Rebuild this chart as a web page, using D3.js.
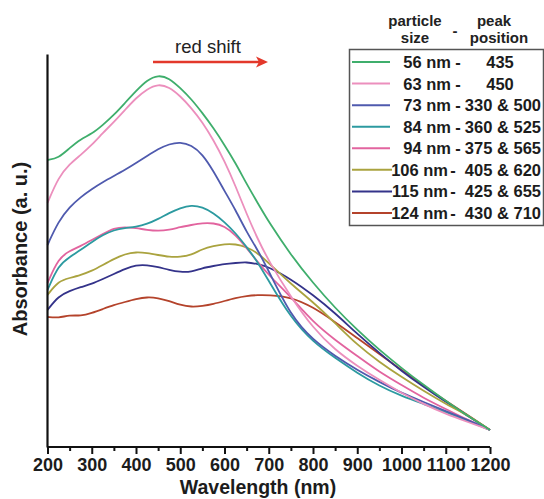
<!DOCTYPE html>
<html>
<head>
<meta charset="utf-8">
<script src="https://cdn.jsdelivr.net/npm/d3@7"></script>
<style>
  html, body { margin: 0; padding: 0; background: #ffffff; }
  svg { display: block; }
  text { font-family: "Liberation Sans", Arial, Helvetica, sans-serif; }
</style>
</head>
<body>
<svg id="chart" width="544" height="499"></svg>
<script>
// ---- data (absorbance in arbitrary units) ----
const wavelengths = [200,225,250,275,300,325,350,375,400,425,450,475,500,525,550,575,600,625,650,675,700,750,800,850,900,950,1000,1050,1100,1150,1200];

const abs56  = [2.87,2.89,2.99,3.08,3.13,3.22,3.32,3.44,3.56,3.67,3.72,3.69,3.59,3.48,3.34,3.19,3.02,2.84,2.63,2.44,2.25,1.92,1.64,1.39,1.17,0.97,0.79,0.62,0.46,0.31,0.17];
const abs63  = [2.44,2.70,2.83,2.92,3.02,3.14,3.25,3.37,3.49,3.58,3.63,3.60,3.51,3.39,3.25,3.07,2.86,2.61,2.33,2.08,1.86,1.50,1.19,0.97,0.81,0.67,0.54,0.43,0.33,0.25,0.17];
const abs73  = [2.02,2.26,2.40,2.50,2.58,2.65,2.71,2.77,2.84,2.91,2.98,3.03,3.05,3.02,2.93,2.76,2.56,2.37,2.15,1.97,1.76,1.31,1.07,0.91,0.77,0.65,0.54,0.45,0.36,0.27,0.17];
const abs84  = [1.57,1.82,1.90,1.97,2.05,2.12,2.17,2.19,2.20,2.23,2.28,2.34,2.39,2.42,2.40,2.34,2.25,2.14,2.00,1.85,1.66,1.29,1.05,0.89,0.74,0.61,0.51,0.43,0.35,0.26,0.17];
const abs94  = [1.64,1.89,1.96,2.01,2.07,2.13,2.19,2.20,2.19,2.17,2.16,2.17,2.20,2.22,2.24,2.24,2.21,2.12,1.99,1.85,1.72,1.50,1.25,1.07,0.91,0.75,0.62,0.49,0.38,0.27,0.17];
const abs106 = [1.52,1.66,1.69,1.72,1.76,1.82,1.88,1.93,1.95,1.94,1.92,1.90,1.90,1.92,1.98,2.01,2.03,2.03,2.00,1.94,1.84,1.63,1.45,1.24,1.02,0.85,0.70,0.56,0.43,0.32,0.17];
const abs115 = [1.37,1.51,1.56,1.60,1.63,1.68,1.73,1.78,1.82,1.82,1.80,1.77,1.75,1.75,1.79,1.81,1.83,1.84,1.85,1.83,1.80,1.68,1.52,1.34,1.13,0.94,0.76,0.60,0.45,0.31,0.17];
const abs124 = [1.30,1.29,1.32,1.31,1.34,1.38,1.42,1.45,1.48,1.50,1.49,1.46,1.42,1.40,1.41,1.43,1.46,1.49,1.51,1.52,1.52,1.50,1.40,1.25,1.09,0.93,0.77,0.61,0.46,0.32,0.17];

const sizeLabels = ["56 nm","63 nm","73 nm","84 nm","94 nm","106 nm","115 nm","124 nm"];
const peakLabels = ["435","450","330 & 500","360 & 525","375 & 565","405 & 620","425 & 655","430 & 710"];
const colors = ["#3fae6c","#ec8fbd","#4f5aae","#2c9aa0","#e2649f","#aaa33f","#34338a","#b4432b"];
const seriesValues = [abs56, abs63, abs73, abs84, abs94, abs106, abs115, abs124];

const majorTicks = [200,300,400,500,600,700,800,900,1000,1100,1200];
const minorTicks = [250,350,450,550,650,750,850,950,1050,1150];

// ---- drawing ----
const svg = d3.select("#chart");
const x = d3.scaleLinear().domain([200, 1200]).range([47.5, 490]);
const y = d3.scaleLinear().domain([0, 3.93]).range([447, 54]);

const line = d3.line()
  .x((d, i) => x(wavelengths[i]))
  .y(d => y(d))
  .curve(d3.curveBasis);

// curves (draw bottom ones first)
const order = [7,6,5,4,3,2,1,0];
svg.append("g").selectAll("path")
  .data(order)
  .join("path")
  .attr("d", k => line(seriesValues[k]))
  .attr("fill", "none")
  .attr("stroke", k => colors[k])
  .attr("stroke-width", 1.8)
  .attr("stroke-linejoin", "round");

// axes
const xMinor = d3.axisBottom(x).tickValues(minorTicks).tickSize(4).tickFormat("");
const xMajor = d3.axisBottom(x).tickValues(majorTicks).tickSize(7).tickPadding(4).tickFormat(d3.format("d"));

const gMinor = svg.append("g").attr("transform", "translate(0,447)").call(xMinor);
gMinor.select(".domain").remove();
gMinor.selectAll("line").attr("stroke", "#111").attr("stroke-width", 2);

const gMajor = svg.append("g").attr("transform", "translate(0,447)").call(xMajor);
gMajor.select(".domain").attr("stroke", "#111").attr("stroke-width", 2.2)
  .attr("d", `M${x(200)},0H${x(1200)}`);
gMajor.selectAll("line").attr("stroke", "#111").attr("stroke-width", 2);
gMajor.selectAll("text")
  .attr("font-size", 18).attr("font-weight", "bold").attr("fill", "#1c1c1c")
  .attr("font-family", "'Liberation Sans', Arial, sans-serif");

// y axis (no ticks)
const yAxis = d3.axisLeft(y).tickValues([]).tickSizeOuter(0);
const gy = svg.append("g").attr("transform", `translate(${x(200) - 0.5},0)`).call(yAxis);
gy.select(".domain").attr("stroke", "#111").attr("stroke-width", 2.2);

// axis titles
svg.append("text")
  .attr("x", 258).attr("y", 494)
  .attr("text-anchor", "middle")
  .attr("font-size", 19.5).attr("font-weight", "bold").attr("fill", "#1c1c1c")
  .text("Wavelength (nm)");

svg.append("text")
  .attr("transform", "translate(27,249) rotate(-90)")
  .attr("text-anchor", "middle")
  .attr("font-size", 20).attr("font-weight", "bold").attr("fill", "#1c1c1c")
  .text("Absorbance (a. u.)");

// red shift annotation
svg.append("text")
  .attr("x", 208).attr("y", 53)
  .attr("text-anchor", "middle")
  .attr("font-size", 18.5).attr("fill", "#222")
  .text("red shift");
svg.append("line")
  .attr("x1", 153).attr("y1", 62).attr("x2", 259).attr("y2", 62)
  .attr("stroke", "#e3382b").attr("stroke-width", 2.6);
svg.append("path")
  .attr("d", "M268,62 L256,56.5 L259,62 L256,67.5 Z")
  .attr("fill", "#e3382b");

// legend header
const hdr = svg.append("g").attr("font-weight", "bold").attr("font-size", 15).attr("fill", "#222");
hdr.append("text").attr("x", 415).attr("y", 26).attr("text-anchor", "middle").text("particle");
hdr.append("text").attr("x", 415).attr("y", 43).attr("text-anchor", "middle").text("size");
hdr.append("text").attr("x", 455).attr("y", 36).attr("text-anchor", "middle").text("-");
hdr.append("text").attr("x", 494).attr("y", 26).attr("text-anchor", "middle").text("peak");
hdr.append("text").attr("x", 499).attr("y", 43).attr("text-anchor", "middle").text("position");

// legend box
svg.append("rect")
  .attr("x", 349.5).attr("y", 49.5).attr("width", 194).attr("height", 176)
  .attr("fill", "#fff").attr("stroke", "#555").attr("stroke-width", 1.5);

const rowY = d3.scaleLinear().domain([0, 7]).range([62, 213]);
const rows = svg.append("g").selectAll("g").data(sizeLabels).join("g")
  .attr("transform", (d, i) => `translate(0,${rowY(i)})`);
rows.append("line")
  .attr("x1", 352).attr("x2", (d, i) => i >= 5 ? 392 : 390)
  .attr("y1", 0).attr("y2", 0)
  .attr("stroke", (d, i) => colors[i]).attr("stroke-width", 2);
rows.append("text")
  .attr("x", (d, i) => i >= 5 ? 448 : 451).attr("y", 6)
  .attr("text-anchor", "end")
  .attr("font-size", 16.5).attr("font-weight", "bold").attr("fill", "#1c1c1c")
  .text(d => d);
rows.append("text")
  .attr("x", (d, i) => i >= 5 ? 453 : 458).attr("y", 6)
  .attr("text-anchor", "middle")
  .attr("font-size", 16.5).attr("font-weight", "bold").attr("fill", "#1c1c1c")
  .text("-");
rows.append("text")
  .attr("x", (d, i) => peakLabels[i].includes("&") ? 541 : 500).attr("y", 6)
  .attr("text-anchor", (d, i) => peakLabels[i].includes("&") ? "end" : "middle")
  .attr("font-size", 16.5).attr("font-weight", "bold").attr("fill", "#1c1c1c")
  .text((d, i) => peakLabels[i]);
</script>
</body>
</html>
